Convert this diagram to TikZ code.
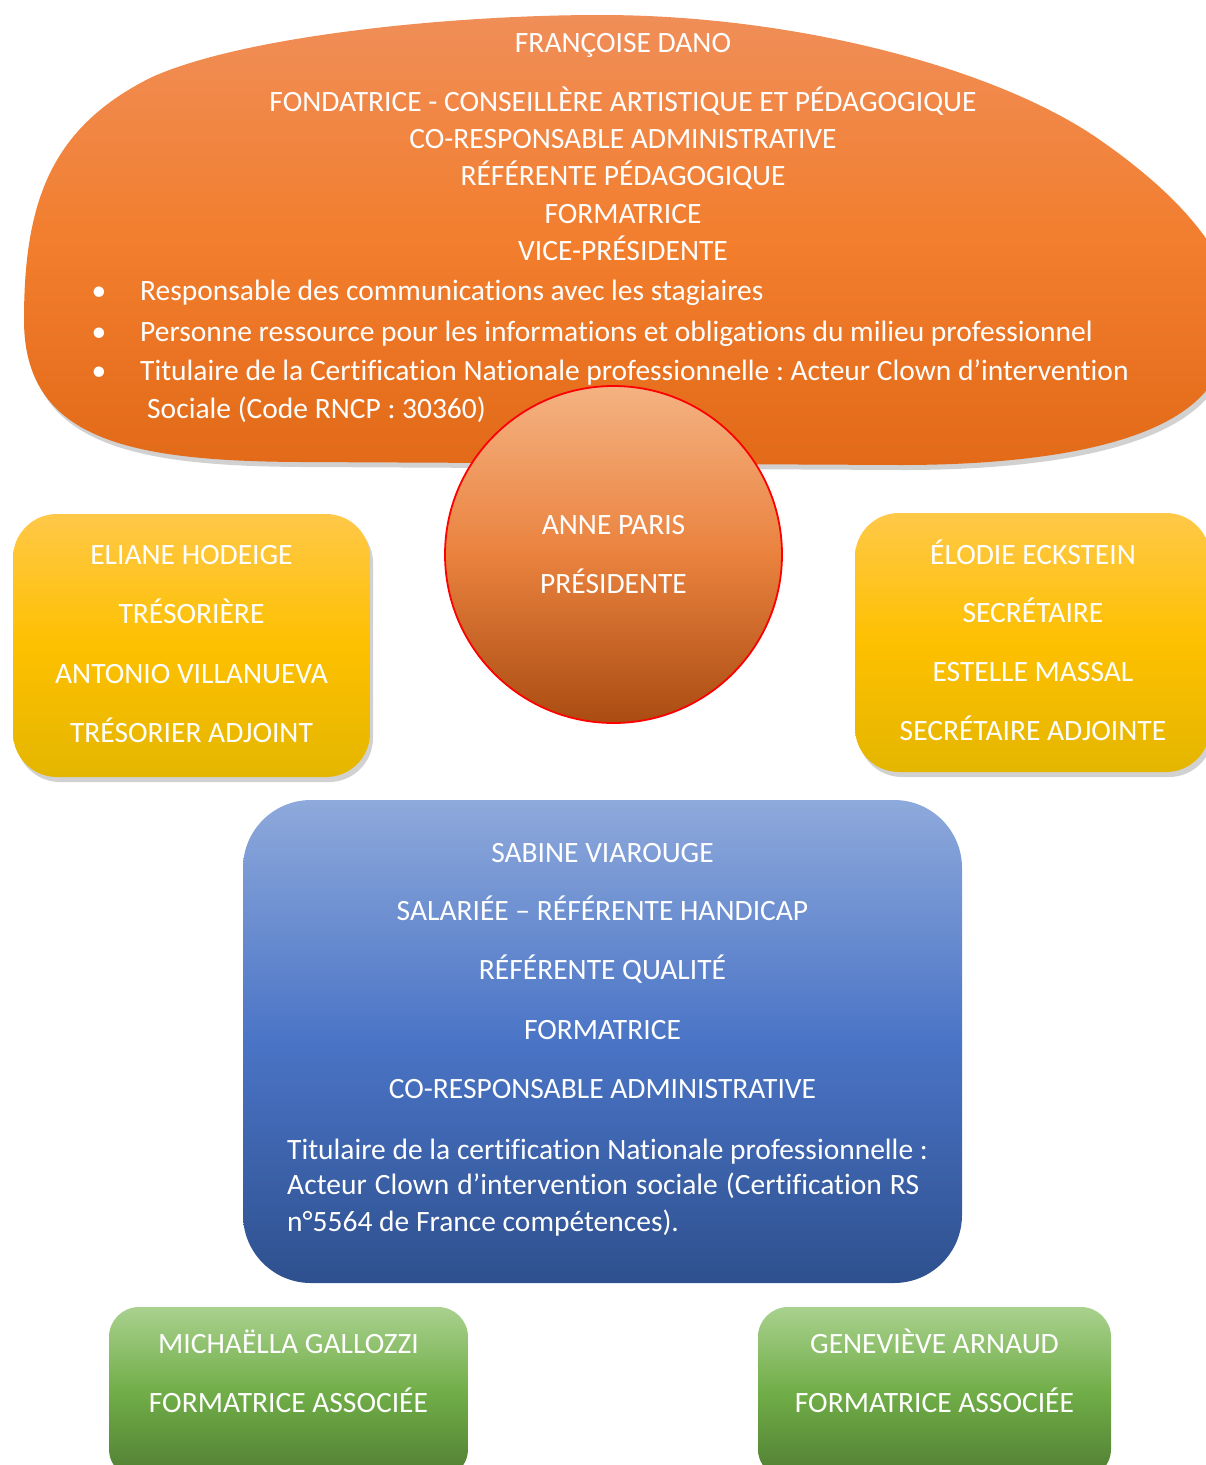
\documentclass[tikz,border=0pt]{standalone}
\usepackage{fontspec}
\setmainfont[Ligatures=NoCommon]{Carlito}
\frenchspacing
\usetikzlibrary{shadows}
\definecolor{orTop}{RGB}{240,142,88}
\definecolor{orMid}{RGB}{242,126,46}
\definecolor{orBot}{RGB}{226,106,24}
\definecolor{ciTop}{RGB}{244,178,130}
\definecolor{ciMid}{RGB}{234,130,62}
\definecolor{ciBot}{RGB}{170,76,18}
\definecolor{yeTop}{RGB}{255,200,72}
\definecolor{yeMid}{RGB}{254,192,0}
\definecolor{yeBot}{RGB}{228,182,0}
\definecolor{blTop}{RGB}{142,169,219}
\definecolor{blMid}{RGB}{74,116,198}
\definecolor{blBot}{RGB}{46,80,142}
\definecolor{grTop}{RGB}{169,209,142}
\definecolor{grMid}{RGB}{112,173,71}
\definecolor{grBot}{RGB}{80,125,50}
\tikzset{
  txt/.style={text=white, font=\fontsize{29.5}{34}\selectfont, inner sep=0pt, anchor=base},
  txtl/.style={txt, anchor=base west},
  softshadow/.style={drop shadow={shadow xshift=3pt, shadow yshift=-5pt, opacity=0.3, fill=black!60}},
  yellowbox/.style={rectangle, rounded corners=44pt, top color=yeTop, bottom color=yeBot, middle color=yeMid, softshadow, inner sep=0pt},
  greenbox/.style={rectangle, rounded corners=30pt, top color=grTop, bottom color=grBot, middle color=grMid, inner sep=0pt},
}
\begin{document}
\begin{tikzpicture}[x=1pt, y=-1pt]
\useasboundingbox (0,0) rectangle (1206,1465);
% top blob
\path[top color=orTop, bottom color=orBot, middle color=orMid, softshadow]
  (600,15) .. controls (800,15) and (1000,70) .. (1100,140)
  .. controls (1215,220) and (1275,310) .. (1205,392)
  .. controls (1155,450) and (1020,465) .. (900,465)
  -- (300,462) .. controls (130,461) and (24,440) .. (24,320)
  .. controls (24,200) and (52,127.5) .. (150,78)
  .. controls (241,36) and (450,15) .. (600,15) -- cycle;
\node[txt] (fd) at (623,52) {FRANÇOISE DANO};
\node[txt] (fd1) at (623,111) {FONDATRICE - CONSEILLÈRE ARTISTIQUE ET PÉDAGOGIQUE};
\node[txt] (fd2) at (623,148) {CO-RESPONSABLE ADMINISTRATIVE};
\node[txt] (fd3) at (623,185) {RÉFÉRENTE PÉDAGOGIQUE};
\node[txt] (fd4) at (623,223) {FORMATRICE};
\node[txt] (fd5) at (623,260) {VICE-PRÉSIDENTE};
\node[txt] (b1) at (99,300) {•};
\node[txt] (b2) at (99,341) {•};
\node[txt] (b3) at (99,380) {•};
\node[txtl] (t1) at (140,300) {Responsable des communications avec les stagiaires};
\node[txtl] (t2) at (140,341) {Personne ressource pour les informations et obligations du milieu professionnel};
\node[txtl] (t3) at (140,380) {Titulaire de la Certification Nationale professionnelle : Acteur Clown d’intervention};
\node[txtl] (t4) at (147,418) {Sociale (Code RNCP : 30360)};
% circle
\node[circle, minimum size=337pt, inner sep=0pt, draw=red, line width=1.8pt,
      top color=ciTop, bottom color=ciBot, middle color=ciMid] (ap) at (613.5,554.5) {};
\node[txt] (ap1) at (613.5,534) {ANNE PARIS};
\node[txt] (ap2) at (613.5,593) {PRÉSIDENTE};
% yellow boxes
\node[yellowbox, minimum width=357pt, minimum height=263pt] (yl) at (191.5,645.5) {};
\node[txt] (yl1) at (191.5,564) {ELIANE HODEIGE};
\node[txt] (yl2) at (191.5,623) {TRÉSORIÈRE};
\node[txt] (yl3) at (191.5,683) {ANTONIO VILLANUEVA};
\node[txt] (yl4) at (191.5,742) {TRÉSORIER ADJOINT};
\node[yellowbox, minimum width=355pt, minimum height=259pt] (yr) at (1032.5,642.5) {};
\node[txt] (yr1) at (1033,564) {ÉLODIE ECKSTEIN};
\node[txt] (yr2) at (1033,622) {SECRÉTAIRE};
\node[txt] (yr3) at (1033,681) {ESTELLE MASSAL};
\node[txt] (yr4) at (1033,740) {SECRÉTAIRE ADJOINTE};
% blue box
\node[rectangle, rounded corners=68pt, minimum width=719pt, minimum height=483pt, inner sep=0pt,
      top color=blTop, bottom color=blBot, middle color=blMid] (sv) at (602.5,1041.5) {};
\node[txt] (sv1) at (602.5,862) {SABINE VIAROUGE};
\node[txt] (sv2) at (602.5,920) {SALARIÉE – RÉFÉRENTE HANDICAP};
\node[txt] (sv3) at (602.5,979) {RÉFÉRENTE QUALITÉ};
\node[txt] (sv4) at (602.5,1039) {FORMATRICE};
\node[txt] (sv5) at (602.5,1098) {CO-RESPONSABLE ADMINISTRATIVE};
\node[txtl] (sp1) at (287,1159) {Titulaire de la certification Nationale professionnelle :};
\node[txtl] (sp2) at (287,1194) {\hbox to 632pt{Acteur Clown d’intervention sociale (Certification RS}};
\node[txtl] (sp3) at (287,1231) {n°5564 de France compétences).};
% green boxes
\node[greenbox, minimum width=359pt, minimum height=172pt] (gl) at (288.5,1393) {};
\node[txt] (gl1) at (288.5,1353) {MICHAËLLA GALLOZZI};
\node[txt] (gl2) at (288.5,1412) {FORMATRICE ASSOCIÉE};
\node[greenbox, minimum width=353pt, minimum height=172pt] (gr) at (934.5,1393) {};
\node[txt] (gr1) at (934.5,1353) {GENEVIÈVE ARNAUD};
\node[txt] (gr2) at (934.5,1412) {FORMATRICE ASSOCIÉE};
\end{tikzpicture}
\end{document}
